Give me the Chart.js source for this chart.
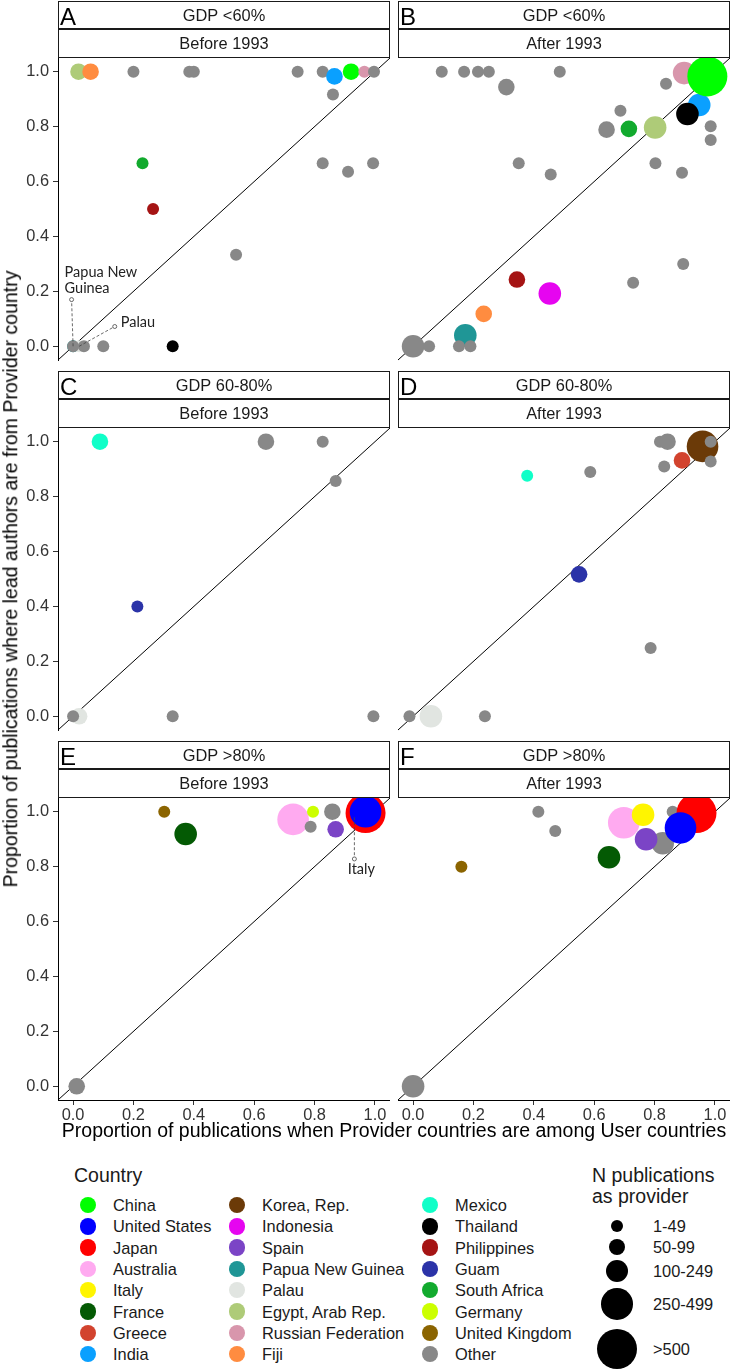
<!DOCTYPE html>
<html>
<head>
<meta charset="utf-8">
<script src="https://cdn.jsdelivr.net/npm/chart.js@4.4.1/dist/chart.umd.min.js"></script>
<style>
  html, body { margin: 0; padding: 0; background: #fff; }
  #wrap { position: relative; width: 730px; height: 1370px; overflow: hidden;
          font-family: "Liberation Sans", Arial, sans-serif; color: #1a1a1a; }
  #wrap canvas { position: absolute; }
  .txt { position: absolute; white-space: nowrap; line-height: 1; }
  .dot { position: absolute; border-radius: 50%; }
</style>
</head>
<body>
<div id="wrap"></div>
<script>
// ---- data ----
const panelLetters = ['A', 'B', 'C', 'D', 'E', 'F'];
const gdpGroups = ['GDP <60%', 'GDP <60%', 'GDP 60-80%', 'GDP 60-80%', 'GDP >80%', 'GDP >80%'];
const periods = ['Before 1993', 'After 1993', 'Before 1993', 'After 1993', 'Before 1993', 'After 1993'];
const tickValues = [0, 0.2, 0.4, 0.6, 0.8, 1.0];
const sizeBins = ['1-49', '50-99', '100-249', '250-499', '>500'];

const countries = ['China', 'United States', 'Japan', 'Australia', 'Italy', 'France', 'Greece', 'India',
  'Korea, Rep.', 'Indonesia', 'Spain', 'Papua New Guinea', 'Palau', 'Egypt, Arab Rep.', 'Russian Federation', 'Fiji',
  'Mexico', 'Thailand', 'Philippines', 'Guam', 'South Africa', 'Germany', 'United Kingdom', 'Other'];

// [country, share when provider among users (x), share lead author from provider (y), size bin index]
const panelA = [
  ['Papua New Guinea', 0.00, 0.00, 0], ['Palau', 0.02, 0.00, 0],
  ['Other', 0.00, 0.00, 0], ['Other', 0.036, 0.00, 0], ['Other', 0.10, 0.00, 0],
  ['Thailand', 0.33, 0.00, 0], ['Other', 0.54, 0.333, 0], ['Philippines', 0.265, 0.50, 0],
  ['South Africa', 0.23, 0.667, 0], ['Other', 0.827, 0.667, 0], ['Other', 0.911, 0.636, 0],
  ['Other', 0.994, 0.667, 0], ['Other', 0.861, 0.917, 0],
  ['Egypt, Arab Rep.', 0.018, 1.0, 1], ['Fiji', 0.058, 1.0, 1],
  ['Other', 0.20, 1.0, 0], ['Other', 0.385, 1.0, 0], ['Other', 0.40, 1.0, 0],
  ['Other', 0.744, 1.0, 0], ['Other', 0.827, 1.0, 0],
  ['India', 0.866, 0.983, 1], ['China', 0.921, 1.0, 1],
  ['Russian Federation', 0.965, 1.0, 0], ['Other', 0.997, 1.0, 0]
];
const panelB = [
  ['Other', 0.00, 0.00, 2], ['Other', 0.053, 0.00, 0],
  ['Papua New Guinea', 0.173, 0.04, 2],
  ['Other', 0.152, 0.00, 0], ['Other', 0.19, 0.00, 0],
  ['Fiji', 0.234, 0.118, 1], ['Indonesia', 0.453, 0.192, 2], ['Philippines', 0.344, 0.243, 1],
  ['Other', 0.729, 0.231, 0], ['Other', 0.895, 0.30, 0],
  ['Other', 0.35, 0.667, 0], ['Other', 0.456, 0.626, 0], ['Other', 0.803, 0.667, 0],
  ['Other', 0.891, 0.632, 0], ['Other', 0.986, 0.751, 0], ['Other', 0.986, 0.801, 0],
  ['Other', 0.641, 0.789, 1], ['South Africa', 0.715, 0.792, 1], ['Egypt, Arab Rep.', 0.802, 0.797, 2],
  ['Other', 0.687, 0.858, 0], ['India', 0.948, 0.879, 2], ['Thailand', 0.909, 0.846, 2],
  ['Other', 0.838, 0.956, 0], ['Other', 0.309, 0.944, 1],
  ['Other', 0.095, 1.0, 0], ['Other', 0.169, 1.0, 0], ['Other', 0.215, 1.0, 0],
  ['Other', 0.251, 1.0, 0], ['Other', 0.486, 1.0, 0],
  ['Russian Federation', 0.898, 0.995, 2], ['Other', 0.93, 1.0, 0], ['China', 0.975, 0.983, 4]
];
const panelC = [
  ['Palau', 0.02, 0.00, 1], ['Other', 0.00, 0.00, 0], ['Other', 0.33, 0.00, 0],
  ['Other', 0.995, 0.00, 0], ['Guam', 0.213, 0.40, 0], ['Other', 0.87, 0.857, 0],
  ['Mexico', 0.089, 1.0, 1], ['Other', 0.639, 1.0, 1], ['Other', 0.827, 1.0, 0]
];
const panelD = [
  ['Korea, Rep.', 0.959, 0.983, 3], ['Palau', 0.059, 0.00, 2], ['Other', -0.012, 0.00, 0],
  ['Other', 0.238, 0.00, 0], ['Other', 0.787, 0.249, 0], ['Guam', 0.55, 0.517, 1],
  ['Mexico', 0.378, 0.876, 0], ['Other', 0.587, 0.89, 0], ['Other', 0.832, 0.91, 0],
  ['Greece', 0.891, 0.932, 1], ['Other', 0.986, 0.928, 0], ['Other', 0.986, 1.0, 0],
  ['Other', 0.818, 1.0, 0], ['Other', 0.843, 1.0, 1]
];
const panelE = [
  ['Other', 0.012, 0.00, 1], ['United Kingdom', 0.302, 1.0, 0], ['France', 0.373, 0.919, 2],
  ['Australia', 0.729, 0.972, 3], ['Germany', 0.795, 1.0, 0], ['Other', 0.787, 0.945, 0],
  ['Other', 0.859, 1.0, 1], ['Spain', 0.87, 0.936, 1], ['Italy', 0.932, 0.98, 0],
  ['Japan', 0.969, 0.995, 4], ['United States', 0.969, 1.0, 3]
];
const panelF = [
  ['Other', 0.00, 0.00, 2], ['United Kingdom', 0.16, 0.80, 0], ['Other', 0.415, 1.0, 0],
  ['Other', 0.471, 0.93, 0], ['France', 0.649, 0.834, 2], ['Other', 0.86, 1.0, 0],
  ['Japan', 0.939, 0.995, 4], ['Other', 0.827, 0.885, 2], ['Australia', 0.698, 0.96, 3],
  ['Italy', 0.762, 0.989, 2], ['Spain', 0.772, 0.90, 2], ['United States', 0.886, 0.941, 3]
];
const panelPoints = [panelA, panelB, panelC, panelD, panelE, panelF];

// labelled hidden points: [panel index, text lines, point x, point y, label x, label y]
const labelNotes = [
  [0, ['Papua New', 'Guinea'], 0.00, 0.00, -0.005, 0.17],
  [0, ['Palau'], 0.02, 0.00, 0.138, 0.072],
  [4, ['Italy'], 0.932, 0.98, 0.932, 0.828]
];

// ---- styles ----
const countryColors = {
  'China': '#00ff00', 'United States': '#0000ff', 'Japan': '#ff0000', 'Australia': '#ffaaf0',
  'Italy': '#fff500', 'France': '#045a04', 'Greece': '#d2432e', 'India': '#0aa0ff',
  'Korea, Rep.': '#6b3a08', 'Indonesia': '#e605f0', 'Spain': '#7b44c6', 'Papua New Guinea': '#1f9696',
  'Palau': '#e1e5e1', 'Egypt, Arab Rep.': '#aecb78', 'Russian Federation': '#d896ac', 'Fiji': '#ff8c40',
  'Mexico': '#10ffc8', 'Thailand': '#000000', 'Philippines': '#a51414', 'Guam': '#2b33a8',
  'South Africa': '#12aa2e', 'Germany': '#ccff00', 'United Kingdom': '#8b6400', 'Other': '#888888'
};
const binRadius = [6, 8.3, 11.3, 15.8, 20];
const FONT = '"Liberation Sans", Arial, sans-serif';
const NOTE_FONT = '14.5px Lato, "Open Sans", sans-serif';

Chart.defaults.font.family = FONT;

// strips, panel letter and the small leader-line labels
const facetDecor = {
  id: 'facetDecor',
  afterDraw(chart, args, opts) {
    const { ctx, chartArea: a, scales } = chart;
    const w = a.right - a.left;
    ctx.save();
    ctx.lineWidth = 1;
    ctx.strokeStyle = '#1a1a1a';
    const boxes = [[a.top - 56.5, a.top - 29.5, opts.gdp], [a.top - 28.5, a.top - 0.5, opts.period]];
    boxes.forEach(([t, b, label]) => {
      ctx.fillStyle = '#fff';
      ctx.fillRect(a.left, t, w, b - t);
      ctx.strokeRect(a.left + 0.5, t, w - 1, b - t);
      ctx.fillStyle = '#1a1a1a';
      ctx.font = '16.4px ' + FONT;
      ctx.textAlign = 'center';
      ctx.textBaseline = 'middle';
      ctx.fillText(label, a.left + w / 2, (t + b) / 2 + 1);
    });
    ctx.font = '24px ' + FONT;
    ctx.textAlign = 'left';
    ctx.textBaseline = 'alphabetic';
    ctx.fillStyle = '#000';
    ctx.fillText(opts.letter, a.left + 2, a.top - 33.5);

    opts.notes.forEach(([, lines, px, py, lx, ly]) => {
      const x0 = scales.x.getPixelForValue(px), y0 = scales.y.getPixelForValue(py);
      const x1 = scales.x.getPixelForValue(lx), y1 = scales.y.getPixelForValue(ly);
      ctx.strokeStyle = '#444';
      ctx.lineWidth = 0.8;
      ctx.setLineDash([3, 2]);
      ctx.beginPath(); ctx.moveTo(x0, y0); ctx.lineTo(x1, y1); ctx.stroke();
      ctx.setLineDash([]);
      ctx.beginPath(); ctx.arc(x1, y1, 2, 0, Math.PI * 2);
      ctx.fillStyle = '#fff'; ctx.fill(); ctx.stroke();
      ctx.fillStyle = '#222';
      ctx.font = NOTE_FONT;
      ctx.textBaseline = 'middle';
      if (lines.length === 2) {
        ctx.textAlign = 'left';
        ctx.fillText(lines[0], x1 - 7, y1 - 27);
        ctx.fillText(lines[1], x1 - 7, y1 - 11);
      } else if (ly < py) {
        ctx.textAlign = 'center';
        ctx.fillText(lines[0], x1 + 7, y1 + 10);
      } else {
        ctx.textAlign = 'left';
        ctx.fillText(lines[0], x1 + 6, y1 - 4);
      }
    });
    ctx.restore();
  }
};

const wrap = document.getElementById('wrap');

function axisOptions(show, isX) {
  return {
    type: 'linear', min: -0.05, max: 1.05, display: show,
    afterBuildTicks: s => { s.ticks = tickValues.map(v => ({ value: v })); },
    afterFit: s => {
      // ticks sit inside the expanded range, so no label overhang padding is needed
      s.paddingTop = s.paddingBottom = s.paddingLeft = s.paddingRight = 0;
      if (!show) return;
      if (isX) s.height = 26; else s.width = 58;
    },
    ticks: { font: { size: 16.4 }, color: '#333', padding: isX ? 1 : 4,
             maxRotation: 0, autoSkip: false, callback: v => Number(v).toFixed(1) },
    grid: { display: true, drawOnChartArea: false, drawTicks: true, tickLength: 5, color: '#333' },
    border: { display: true, color: '#000', width: 1 }
  };
}

panelPoints.forEach((pts, i) => {
  const col = i % 2, row = Math.floor(i / 2);
  const canvas = document.createElement('canvas');
  const width = col === 0 ? 390 : 340;
  const height = row === 2 ? 400 : 370;
  canvas.width = width; canvas.height = height;
  canvas.style.left = (col === 0 ? 0 : 390) + 'px';
  canvas.style.top = (row * 370) + 'px';
  canvas.style.width = width + 'px'; canvas.style.height = height + 'px';
  wrap.appendChild(canvas);

  new Chart(canvas.getContext('2d'), {
    type: 'bubble',
    data: {
      datasets: [
        {
          data: pts.map(p => ({ x: p[1], y: p[2], r: binRadius[p[3]] })),
          backgroundColor: pts.map(p => countryColors[p[0]]),
          borderWidth: 0, clip: false, order: 0
        },
        {
          type: 'line',
          data: [{ x: -0.05, y: -0.05 }, { x: 1.05, y: 1.05 }],
          borderColor: '#000', borderWidth: 1, pointRadius: 0, clip: false, order: 1
        }
      ]
    },
    options: {
      responsive: false,
      animation: false,
      events: [],
      layout: {
        autoPadding: false,
        padding: { left: col === 0 ? 0 : 8, right: 0, top: 58, bottom: row === 2 ? 14 : 10 }
      },
      plugins: {
        legend: { display: false },
        tooltip: { enabled: false },
        facetDecor: {
          letter: panelLetters[i], gdp: gdpGroups[i], period: periods[i],
          notes: labelNotes.filter(n => n[0] === i)
        }
      },
      scales: {
        x: axisOptions(row === 2, true),
        y: axisOptions(col === 0, false)
      }
    },
    plugins: [facetDecor]
  });
});

// axis titles
function addText(text, css) {
  const d = document.createElement('div');
  d.className = 'txt';
  d.textContent = text;
  Object.assign(d.style, css);
  wrap.appendChild(d);
  return d;
}
addText('Proportion of publications where lead authors are from Provider country',
  { left: '11px', top: '579px', fontSize: '19.5px', color: '#000', transform: 'translate(-50%,-50%) rotate(-90deg)' });
addText('Proportion of publications when Provider countries are among User countries',
  { left: '394px', top: '1131px', fontSize: '19.5px', color: '#000', transform: 'translate(-50%,-50%)' });

// legends
addText('Country', { left: '74px', top: '1176px', fontSize: '19.5px', transform: 'translateY(-50%)' });
const legendCols = [[88, 113], [237, 262], [430, 455]];
countries.forEach((c, i) => {
  const [cx, lx] = legendCols[Math.floor(i / 8)];
  const cy = 1205 + (i % 8) * 21.3;
  const d = document.createElement('div');
  d.className = 'dot';
  Object.assign(d.style, { left: (cx - 8.3) + 'px', top: (cy - 8.3) + 'px', width: '16.6px', height: '16.6px',
    background: countryColors[c] });
  wrap.appendChild(d);
  addText(c, { left: lx + 'px', top: cy + 'px', fontSize: '16.4px', transform: 'translateY(-50%)' });
});

addText('N publications', { left: '592px', top: '1176px', fontSize: '19.5px', transform: 'translateY(-50%)' });
addText('as provider', { left: '592px', top: '1197px', fontSize: '19.5px', transform: 'translateY(-50%)' });
const sizeRowsY = [1226, 1247, 1271, 1304, 1349];
sizeBins.forEach((b, i) => {
  const r = binRadius[i], cy = sizeRowsY[i];
  const d = document.createElement('div');
  d.className = 'dot';
  Object.assign(d.style, { left: (617 - r) + 'px', top: (cy - r) + 'px', width: 2 * r + 'px', height: 2 * r + 'px',
    background: '#000' });
  wrap.appendChild(d);
  addText(b, { left: '653px', top: cy + 'px', fontSize: '16.4px', transform: 'translateY(-50%)' });
});
</script>
</body>
</html>
